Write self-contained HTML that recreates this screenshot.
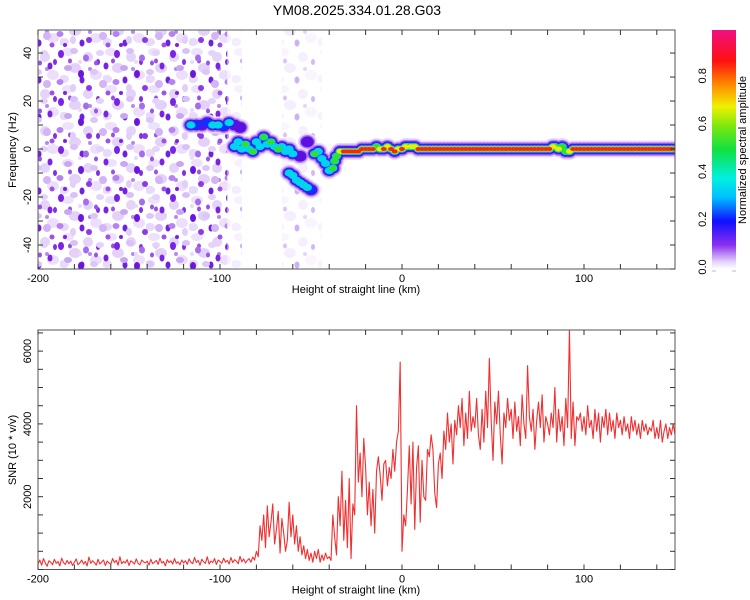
<!DOCTYPE html>
<html><head><meta charset="utf-8">
<style>
body{margin:0;background:#fff;}
svg{display:block;font-family:"Liberation Sans",sans-serif;}
</style></head>
<body>
<svg id="c" width="750" height="600" viewBox="0 0 750 600" xmlns="http://www.w3.org/2000/svg">
<defs>
<pattern id="noise" width="56" height="48" patternUnits="userSpaceOnUse">
<ellipse cx="5" cy="6" rx="3" ry="4" fill="#7a22e6"/>
<ellipse cx="18" cy="3" rx="4" ry="3" fill="#d9c0f8"/>
<ellipse cx="30" cy="10" rx="3" ry="3.5" fill="#a66cf0"/>
<ellipse cx="44" cy="5" rx="4" ry="3" fill="#e4d2fa"/>
<ellipse cx="50" cy="18" rx="2.5" ry="3.5" fill="#7a22e6"/>
<ellipse cx="12" cy="20" rx="4" ry="3" fill="#c9a6f5"/>
<ellipse cx="25" cy="26" rx="3" ry="4" fill="#6a16e0"/>
<ellipse cx="38" cy="24" rx="4" ry="3" fill="#dcc6f9"/>
<ellipse cx="4" cy="34" rx="3.5" ry="3" fill="#b482f2"/>
<ellipse cx="17" cy="40" rx="3" ry="4" fill="#e2cefa"/>
<ellipse cx="33" cy="40" rx="3" ry="3" fill="#8a3ae8"/>
<ellipse cx="47" cy="36" rx="4" ry="4" fill="#d2b4f7"/>
<ellipse cx="52" cy="45" rx="2.5" ry="2.5" fill="#9b52ec"/>
<ellipse cx="24" cy="14" rx="2" ry="2" fill="#e8dafb"/>
<ellipse cx="40" cy="15" rx="2" ry="2.5" fill="#9b52ec"/>
<ellipse cx="9" cy="45" rx="2" ry="2" fill="#7a22e6"/>
</pattern>
<pattern id="noise2" x="17" y="11" width="43" height="37" patternUnits="userSpaceOnUse">
<ellipse cx="8" cy="4" rx="6" ry="4" fill="#ecdffb" opacity="0.9"/>
<ellipse cx="28" cy="9" rx="5" ry="5" fill="#e2d0fa" opacity="0.9"/>
<ellipse cx="15" cy="20" rx="6" ry="5" fill="#dcc6f9" opacity="0.8"/>
<ellipse cx="36" cy="27" rx="6" ry="5" fill="#ebdcfb" opacity="0.9"/>
<ellipse cx="4" cy="31" rx="5" ry="4" fill="#e6d6fa" opacity="0.9"/>
<ellipse cx="22" cy="32" rx="2.5" ry="3.5" fill="#7020e0"/>
<ellipse cx="38" cy="14" rx="2" ry="3" fill="#8030e6"/>
<ellipse cx="10" cy="13" rx="2" ry="2.5" fill="#9a50ec"/>
<ellipse cx="30" cy="21" rx="2" ry="2" fill="#b888f2"/>
</pattern>
<linearGradient id="cbar" x1="0" y1="1" x2="0" y2="0">
<stop offset="0" stop-color="#ffffff"/>
<stop offset="0.03" stop-color="#e4d2fa"/>
<stop offset="0.1" stop-color="#8a30f0"/>
<stop offset="0.2" stop-color="#1010ff"/>
<stop offset="0.3" stop-color="#00c0ff"/>
<stop offset="0.38" stop-color="#00f0e0"/>
<stop offset="0.5" stop-color="#10e040"/>
<stop offset="0.6" stop-color="#80e810"/>
<stop offset="0.68" stop-color="#f0f000"/>
<stop offset="0.78" stop-color="#ff8000"/>
<stop offset="0.87" stop-color="#ff1010"/>
<stop offset="1" stop-color="#f01080"/>
</linearGradient>
<clipPath id="clipTop"><rect x="38" y="30" width="637" height="239"/></clipPath>
<clipPath id="clipBot"><rect x="38" y="330" width="637" height="239"/></clipPath>
</defs>
<text x="357" y="15" font-size="14" text-anchor="middle" fill="#000">YM08.2025.334.01.28.G03</text>
<g id="topPanel"></g>
<g id="botPanel"></g>
<g id="cbPanel"></g>
</svg>
<script>
// ---- data ----
const xTicks = [-200, -100, 0, 100];
const freqTicks = [-40, -20, 0, 20, 40];
const snrTicks = [2000, 4000, 6000];
const cbarTicks = [0.0, 0.2, 0.4, 0.6, 0.8];

const snrStart = -200; // km, step 1 km
const snrValues = [
150,260,120,300,180,90,240,200,130,280,170,220,100,310,190,140,250,160,230,110,
200,290,130,180,260,150,220,100,340,170,240,190,120,280,150,210,260,110,230,180,
140,300,190,250,120,350,160,220,180,270,110,240,200,150,290,170,130,260,210,180,
230,120,280,160,200,250,140,310,180,220,100,270,190,240,150,300,170,210,130,260,
180,240,140,290,200,160,330,190,250,120,280,210,170,350,150,230,190,300,140,260,
220,170,310,200,250,150,330,190,270,230,160,360,210,290,180,250,300,200,340,260,
500,350,1200,800,1500,600,1750,900,1300,1800,700,1100,1600,450,1400,1000,500,800,1850,900,
1500,700,1200,500,900,400,650,300,550,250,450,200,500,300,550,200,400,250,450,300,
350,250,1500,900,400,2000,1200,2700,800,1900,600,2500,300,1800,1500,4500,2400,3200,2000,3600,
2800,1500,2400,1200,2200,1000,2700,3100,2600,1900,2900,3000,2300,2800,2500,3300,2700,3500,3800,5700,
500,1500,1200,2200,3400,1800,3500,1100,2800,3400,1300,3000,2000,1900,3300,3100,3700,3300,2100,1700,
2900,3200,2500,3800,3300,4300,3500,4000,2900,4100,3700,4500,3900,4700,3400,4300,3600,4900,3800,4200,
3900,4700,3700,3300,4400,3500,4900,3900,5800,4100,3000,4600,4000,4900,3700,2900,4300,3900,4700,4100,
4400,3600,4600,3800,4200,3400,4800,4000,3600,5600,4200,3800,4400,3300,4100,4600,3900,4800,3500,4200,
4000,3700,4300,3900,5000,3500,4400,3800,4200,3400,4700,3900,6600,3600,4600,3400,4200,4100,4300,3800,
4200,3700,4500,3900,4100,3600,4400,3800,4300,3500,4200,3900,4400,3700,4300,3800,4100,3600,4300,3900,
4100,3700,4200,3800,4000,3600,4200,3800,4100,3700,4000,3600,4100,3800,4000,3700,3900,3800,4100,3600,
3900,3600,4100,3500,3800,4000,3600,3900,3700,4000,3700
];

const ridgeX = [-116,-113,-110,-107,-104,-101,-98,-95,-92,-89,
 -92,-90,-88,-86,-84,-82,-80,-78,-76,-74,-72,-70,-68,-66,-64,-62,-60,-56,-52,-48,-46,
 -62,-60,-58,-56,-54,-52,-50,
 -44,-42,-40,-38,-37,-36,-34,-32,-30,-28,-26,-24,-22,-20,-18,-16,-14,-12,-10,-8,-6,-4,-2,0,2,3,5,7,
 9,11,13,15,17,19,21,23,25,27,29,31,33,35,37,39,41,43,45,47,49,51,53,55,57,59,61,63,65,67,69,71,73,75,77,79,81,
 83,84,86,88,90,92,94,96,98,100,102,104,106,108,110,112,114,116,118,120,122,124,126,128,130,132,134,136,138,140,142,144,146,148,150];
const ridgeF = [10,10,10,11,10,10,9.5,11,10,9,
 1,3,0,2,0,-1,3,1,5,2,3,1,0,1,-1,0,-2,-3,3,-2,-1,
 -10,-11,-13,-14,-15,-16,-17,
 -4,-6,-9,-8,-5,-3,-1,-1,-1,-1,-1,-1,0,0,0,0,1,0,0,1,0,-1,0,0,1,1,1,1,
 0,0,0,0,0,0,0,0,0,0,0,0,0,0,0,0,0,0,0,0,0,0,0,0,0,0,0,0,0,0,0,0,0,0,0,0,0,
 1,1,0,1,-1,-1,0,0,0,0,0,0,0,0,0,0,0,0,0,0,0,0,0,0,0,0,0,0,0,0,0,0,0,0,0];
const ridgeA = [0.3,0.25,0.2,0.25,0.3,0.3,0.25,0.3,0.2,0.2,
 0.3,0.35,0.4,0.45,0.4,0.45,0.35,0.4,0.45,0.4,0.45,0.4,0.45,0.35,0.3,0.4,0.35,0.2,0.2,0.5,0.35,
 0.3,0.35,0.3,0.3,0.3,0.3,0.25,
 0.3,0.35,0.4,0.45,0.5,0.5,0.6,0.75,0.8,0.8,0.8,0.8,0.85,0.85,0.85,0.85,0.5,0.7,0.85,0.6,0.85,0.85,0.7,0.75,0.6,0.5,0.6,0.7,
 0.85,0.85,0.85,0.85,0.85,0.85,0.85,0.85,0.85,0.85,0.85,0.85,0.85,0.85,0.85,0.85,0.85,0.85,0.85,0.85,0.85,0.85,0.85,0.85,0.85,0.85,0.85,0.85,0.85,0.85,0.85,0.85,0.85,0.85,0.85,0.85,0.85,
 0.6,0.5,0.6,0.55,0.5,0.6,0.85,0.85,0.85,0.85,0.85,0.85,0.85,0.85,0.85,0.85,0.85,0.85,0.85,0.85,0.85,0.85,0.85,0.85,0.85,0.85,0.85,0.85,0.85,0.85,0.85,0.85,0.85,0.85,0.85];

// ---- layout ----
const NS = "http://www.w3.org/2000/svg";
const PX0 = 38, PX1 = 675;
const xMin = -200, xMax = 150;
const xs = v => PX0 + (v - xMin) / (xMax - xMin) * (PX1 - PX0);
const T0 = 30, T1 = 269, fMin = -50, fMax = 49.6;
const fy = v => T1 - (v - fMin) / (fMax - fMin) * (T1 - T0);
const B0 = 330, B1 = 569.5, sMax = 6580;
const sy = v => B1 - v / sMax * (B1 - B0);

function mk(tag, attrs, parent) {
  const e = document.createElementNS(NS, tag);
  for (const k in attrs) e.setAttribute(k, attrs[k]);
  parent.appendChild(e);
  return e;
}
const topG = document.getElementById('topPanel');
const botG = document.getElementById('botPanel');
const cbG = document.getElementById('cbPanel');

// ---- spectrogram ----
const hm = mk('g', {'clip-path': 'url(#clipTop)'}, topG);


let n0 = mk('rect', {x: xs(-200), y: T0, width: xs(-96) - xs(-200), height: T1 - T0, fill: 'url(#noise2)'}, hm);


let n1 = mk('rect', {x: xs(-200), y: T0, width: xs(-96) - xs(-200), height: T1 - T0, fill: 'url(#noise)'}, hm);


let n2 = mk('rect', {x: xs(-96), y: T0, width: xs(-88) - xs(-96), height: T1 - T0, fill: 'url(#noise2)', opacity: 0.5}, hm);


let n3 = mk('rect', {x: xs(-66), y: T0, width: xs(-44) - xs(-66), height: T1 - T0, fill: 'url(#noise2)', opacity: 0.35}, hm);



const levels = [[0.02,'#e6d6fa',8.5],[0.08,'#b27af0',6.8],[0.15,'#5a10e0',5.4],[0.22,'#1030ff',4.4],[0.3,'#00d4f0',3.6],[0.42,'#30e030',3.0],[0.58,'#e8f000',2.5],[0.72,'#ff2020',2.0]];
levels.forEach(function(L){
  for (let i = 0; i < ridgeX.length; i++) {
    if (ridgeF[i] === undefined || ridgeA[i] === undefined) continue;
    if (ridgeA[i] < L[0]) continue;
    const c = mk('ellipse', {cx: xs(ridgeX[i]), cy: fy(ridgeF[i]), rx: L[2] + 1, ry: L[2], fill: L[1]}, hm);
    
    
  }
});

function frame(y0, y1, parent, yTickVals, yScale, minorStep, yLo, yHi) {
  const r = mk('rect', {x: PX0, y: y0, width: PX1 - PX0, height: y1 - y0, fill: 'none', stroke: '#555', 'stroke-width': 1}, parent);
  
  
  for (let v = -200; v <= 150; v += 20) {
    const x = xs(v);
    mk('line', {x1: x, y1: y1, x2: x, y2: y1 - 5, stroke: '#333'}, parent);
    mk('line', {x1: x, y1: y0, x2: x, y2: y0 + 5, stroke: '#333'}, parent);
  }
  for (let v = yLo; v <= yHi; v += minorStep) {
    const y = yScale(v);
    if (y < y0 || y > y1) continue;
    mk('line', {x1: PX0, y1: y, x2: PX0 + 5, y2: y, stroke: '#333'}, parent);
    mk('line', {x1: PX1, y1: y, x2: PX1 - 5, y2: y, stroke: '#333'}, parent);
  }
  xTicks.forEach(function(v){
    const t = mk('text', {x: xs(v), y: y1 + 13, 'font-size': 11, 'text-anchor': 'middle', fill: '#000'}, parent);
    t.textContent = v;
    
    
  });
  yTickVals.forEach(function(v){
    const y = yScale(v);
    const t = mk('text', {x: 0, y: 0, 'font-size': 11, 'text-anchor': 'middle', fill: '#000', transform: 'translate(31,' + y + ') rotate(-90)'}, parent);
    t.textContent = v;
    
    
  });
  const xt = mk('text', {x: 356, y: y1 + 24, 'font-size': 11, 'text-anchor': 'middle', fill: '#000'}, parent);
  xt.textContent = 'Height of straight line (km)';
  
  
}
frame(T0, T1, topG, freqTicks, fy, 10, -50, 50);
const yt1 = mk('text', {x: 0, y: 0, 'font-size': 11, 'text-anchor': 'middle', fill: '#000', transform: 'translate(16,150) rotate(-90)'}, topG);
yt1.textContent = 'Frequency (Hz)';



// ---- SNR ----
const lg = mk('g', {'clip-path': 'url(#clipBot)'}, botG);
let pts = [];
for (let i = 0; i < snrValues.length; i++) pts.push(xs(snrStart + i).toFixed(2) + ',' + sy(snrValues[i]).toFixed(2));
const line = mk('polyline', {points: pts.join(' '), fill: 'none', stroke: '#f03030', 'stroke-width': 1.1, 'stroke-linejoin': 'round'}, lg);


frame(B0, B1, botG, snrTicks, sy, 500, 0, 6500);
const yt2 = mk('text', {x: 0, y: 0, 'font-size': 11, 'text-anchor': 'middle', fill: '#000', transform: 'translate(16,450) rotate(-90)'}, botG);
yt2.textContent = 'SNR (10 * v/v)';



// ---- colorbar ----
const CB0 = 30, CB1 = 269;
const cy = v => CB1 - v * (CB1 - CB0);
const bar = mk('rect', {x: 712, y: CB0, width: 24, height: CB1 - CB0, fill: 'url(#cbar)'}, cbG);


mk('line', {x1: 712, y1: 271, x2: 716, y2: 271, stroke: '#bbb'}, cbG);
mk('line', {x1: 732, y1: 271, x2: 736, y2: 271, stroke: '#bbb'}, cbG);
cbarTicks.forEach(function(v){
  const t = mk('text', {x: 0, y: 0, 'font-size': 11, 'text-anchor': 'middle', fill: '#000', transform: 'translate(706,' + (cy(v) - 2) + ') rotate(-90)'}, cbG);
  t.textContent = v.toFixed(1);
  
  
});
const ct = mk('text', {x: 0, y: 0, 'font-size': 11, 'text-anchor': 'middle', fill: '#000', transform: 'translate(746,150) rotate(-90)'}, cbG);
ct.textContent = 'Normalized spectral amplitude';


</script>
</body></html>
